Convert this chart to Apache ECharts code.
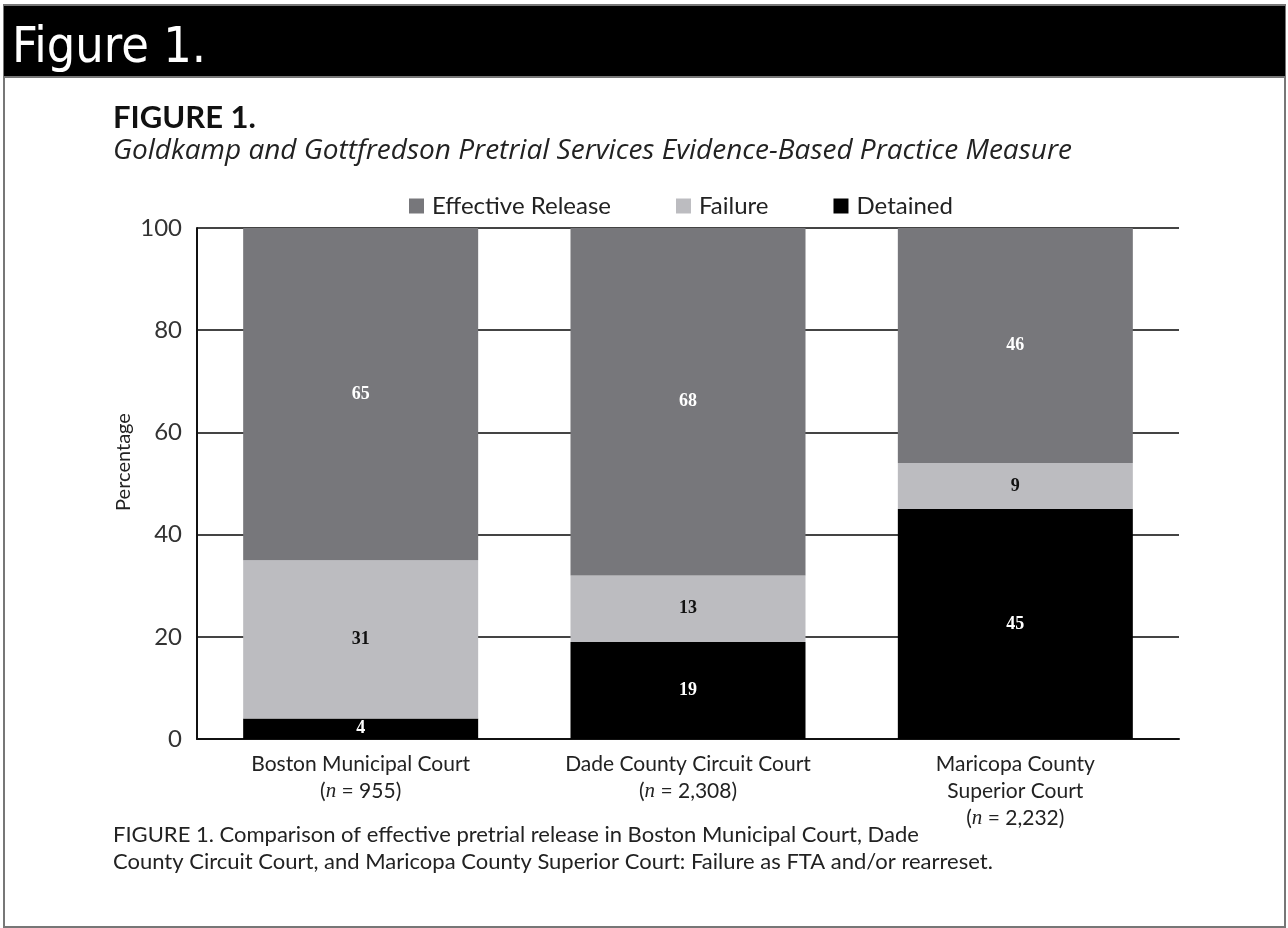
<!DOCTYPE html>
<html><head><meta charset="utf-8">
<script src="https://cdn.jsdelivr.net/npm/echarts@6/dist/echarts.min.js"></script>
<style>html,body{margin:0;padding:0;background:#fff}#c{width:1288px;height:928px}</style>
</head><body><div id="c"></div>
<script>
var categories = ['Boston Municipal Court', 'Dade County Circuit Court', 'Maricopa County\nSuperior Court'];
var sampleSizes = ['955', '2,308', '2,232'];
var detained = [4, 19, 45];
var failure = [31, 13, 9];
var effectiveRelease = [65, 68, 46];
var yTicks = [0, 20, 40, 60, 80, 100];

var FONT = 'Lato, "Open Sans", sans-serif';
var chart = echarts.init(document.getElementById('c'), null, {renderer: 'canvas'});

function lbl(color) {
  return {show: true, position: 'inside', color: color, fontFamily: '"Liberation Serif", serif',
          fontWeight: 'bold', fontSize: 18};
}

chart.setOption({
  backgroundColor: '#fff',
  animation: false,
  title: [
    {text: 'FIGURE 1.', left: 108, top: 97, textStyle: {fontFamily: FONT, fontWeight: 'bold', fontSize: 31, color: '#111'}},
    {text: 'Goldkamp and Gottfredson Pretrial Services Evidence-Based Practice Measure', left: 108, top: 132,
     textStyle: {fontFamily: '"Open Sans", sans-serif', fontStyle: 'italic', fontWeight: 'normal', fontSize: 28, color: '#222'}}
  ],
  legend: {
    top: 189, left: 404, itemWidth: 15, itemHeight: 15, itemGap: 65, icon: 'rect',
    textStyle: {fontFamily: FONT, fontSize: 24, color: '#222', padding: [0, 0, 0, 3]},
    data: ['Effective Release', 'Failure', 'Detained']
  },
  grid: {left: 197, right: 109, top: 228, bottom: 189},
  xAxis: {
    type: 'category', data: categories,
    axisLine: {lineStyle: {color: '#111', width: 2}},
    axisTick: {show: false},
    axisLabel: {
      interval: 0, margin: 12, color: '#222', fontFamily: FONT, fontSize: 21, lineHeight: 27,
      formatter: function (v, i) { return v + '\n(' + '{i|n} = ' + sampleSizes[i] + ')'; },
      rich: {i: {fontStyle: 'italic', fontFamily: '"Liberation Serif", serif', fontSize: 21, color: '#222', lineHeight: 27}}
    }
  },
  yAxis: {
    type: 'value', min: 0, max: 100, interval: 20,
    axisLine: {show: true, lineStyle: {color: '#111', width: 2}},
    axisTick: {show: false},
    axisLabel: {margin: 15, color: '#333', fontFamily: FONT, fontSize: 24,
      formatter: function (v) { return yTicks.indexOf(v) >= 0 ? String(v) : ''; }},
    splitLine: {show: true, lineStyle: {color: '#444', width: 2}}
  },
  series: [
    {name: 'Detained', type: 'bar', stack: 's', data: detained, barWidth: 235,
     itemStyle: {color: '#000'}, label: lbl('#fff')},
    {name: 'Failure', type: 'bar', stack: 's', data: failure, barWidth: 235,
     itemStyle: {color: '#bcbcc0'}, label: lbl('#111')},
    {name: 'Effective Release', type: 'bar', stack: 's', data: effectiveRelease, barWidth: 235,
     itemStyle: {color: '#77777b'}, label: lbl('#fff')}
  ],
  graphic: [
    {type: 'rect', z: -10, shape: {x: 4, y: 5, width: 1281, height: 922}, style: {fill: '#fff', stroke: '#777', lineWidth: 2}},
    {type: 'rect', z: 10, shape: {x: 4, y: 6, width: 1281, height: 70}, style: {fill: '#000'}},
    {type: 'line', z: 10, shape: {x1: 4, y1: 77, x2: 1285, y2: 77}, style: {stroke: '#777', lineWidth: 2}},
    {type: 'text', z: 11, left: 12, top: 24, style: {text: 'Figure 1.', fill: '#fff', font: '50px "DejaVu Sans Condensed", "DejaVu Sans", sans-serif'}},
    {type: 'text', x: 124, y: 462, rotation: Math.PI / 2,
     style: {text: 'Percentage', fill: '#222', font: '20px Lato, sans-serif', align: 'center', verticalAlign: 'middle'}},
    {type: 'text', left: 113, top: 821, style: {text: 'FIGURE 1. Comparison of effective pretrial release in Boston Municipal Court, Dade\nCounty Circuit Court, and Maricopa County Superior Court: Failure as FTA and/or rearreset.',
      fill: '#222', font: '22px Lato, "Open Sans", sans-serif', lineHeight: 27}}
  ]
});
</script></body></html>
